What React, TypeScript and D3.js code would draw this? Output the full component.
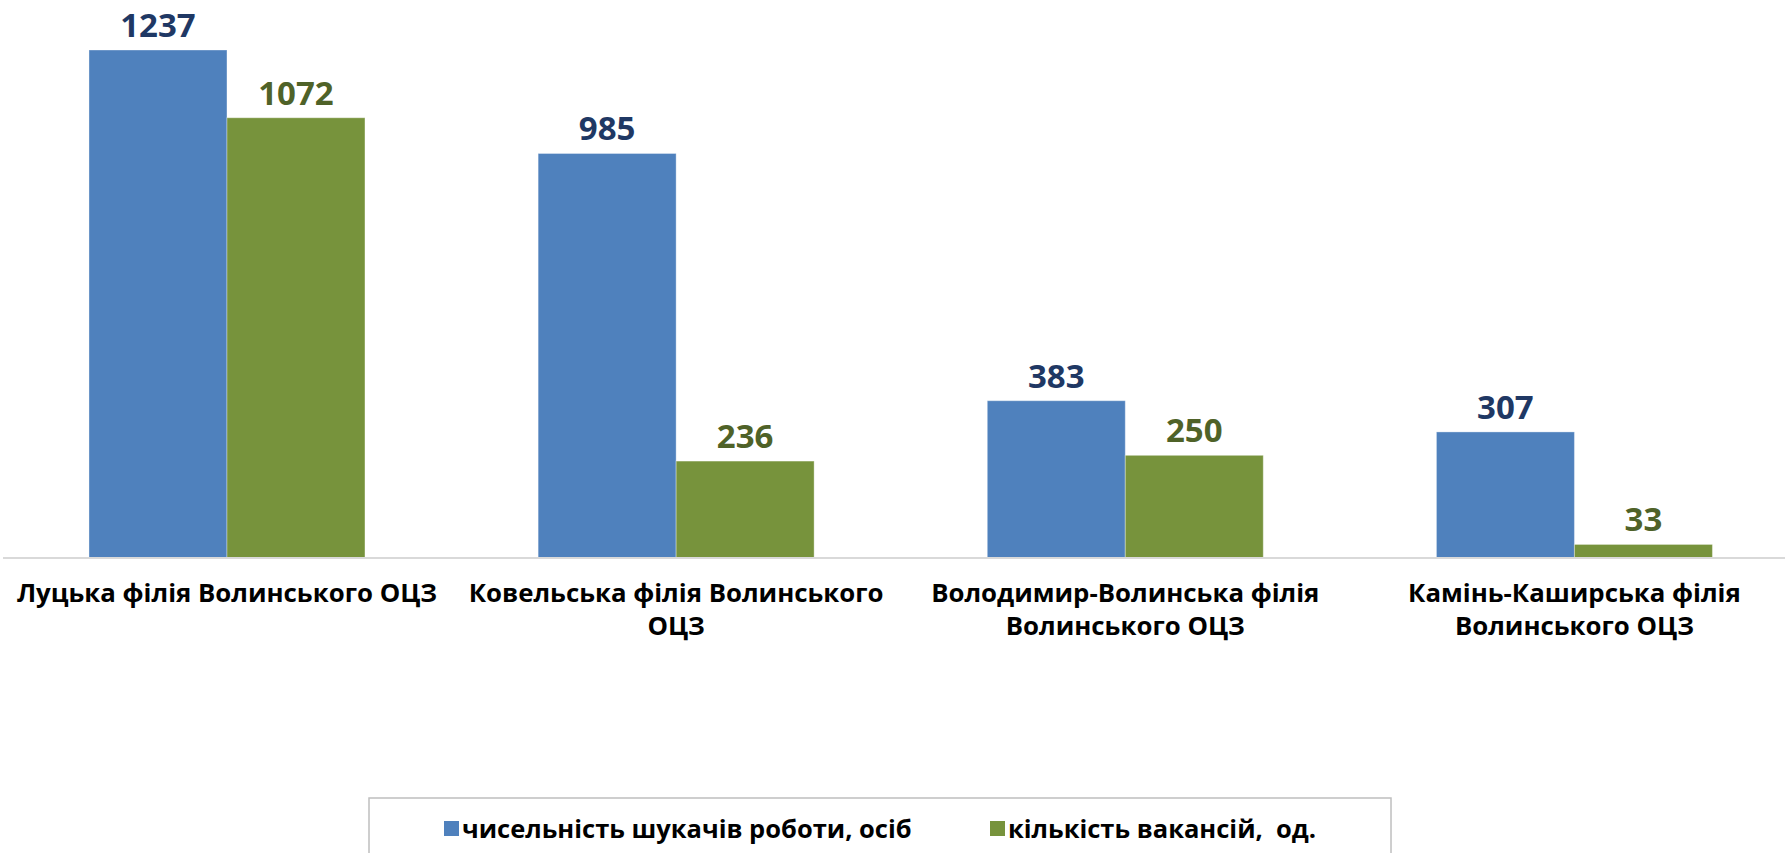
import React, { useEffect, useRef } from 'react';
import * as d3 from 'd3';

// categories (already split into lines the way the reference wraps them)
const categories = [
  'Луцька філія Волинського ОЦЗ',
  'Ковельська філія Волинського ОЦЗ',
  'Володимир-Волинська філія Волинського ОЦЗ',
  'Камінь-Каширська філія Волинського ОЦЗ',
];
const categoryLines = [
  ['Луцька філія Волинського ОЦЗ'],
  ['Ковельська філія Волинського', 'ОЦЗ'],
  ['Володимир-Волинська філія', 'Волинського ОЦЗ'],
  ['Камінь-Каширська філія', 'Волинського ОЦЗ'],
];

const seriesNames = ['чисельність шукачів роботи, осіб', 'кількість вакансій,  од.'];
const jobSeekers = [1237, 985, 383, 307];
const vacancies = [1072, 236, 250, 33];

const COLORS = {
  bars: ['#4F81BD', '#77933C'],
  labels: ['#1F3864', '#4F6228'],
  axis: '#D9D9D9',
  legendBorder: '#BFBFBF',
};

const W = 1785;
const H = 853;

const App: React.FC = () => {
  const svgRef = useRef<SVGSVGElement>(null);

  useEffect(() => {
    if (!svgRef.current) return;
    const svg = d3.select(svgRef.current);
    svg.selectAll('*').remove();

    const values = [jobSeekers, vacancies];
    const baseY = 558;

    const x0 = d3.scaleBand<string>()
      .domain(categories)
      .range([2.4, 1799])
      .padding(0);

    const x1 = d3.scaleBand<number>()
      .domain([0, 1])
      .range([0, x0.bandwidth()])
      .paddingInner(0)
      .paddingOuter(0.6275);

    const y = d3.scaleLinear()
      .domain([0, d3.max(jobSeekers) as number])
      .range([baseY, 50]);

    // bars + value labels
    categories.forEach((cat, i) => {
      const g = svg.append('g').attr('transform', `translate(${x0(cat)},0)`);
      [0, 1].forEach(s => {
        const v = values[s][i];
        const bx = x1(s) as number;
        g.append('rect')
          .attr('x', bx)
          .attr('y', y(v))
          .attr('width', x1.bandwidth())
          .attr('height', baseY - y(v))
          .attr('fill', COLORS.bars[s])
          .attr('stroke', 'rgba(255,255,255,0.35)')
          .attr('stroke-width', 1);

        g.append('text')
          .attr('x', bx + x1.bandwidth() / 2)
          .attr('y', y(v) - 13)
          .attr('text-anchor', 'middle')
          .attr('font-family', '"Open Sans", sans-serif')
          .attr('font-weight', 'bold')
          .attr('font-size', '33px')
          .attr('fill', COLORS.labels[s])
          .text(String(v));
      });
    });

    // baseline
    svg.append('line')
      .attr('x1', 3).attr('x2', W)
      .attr('y1', baseY).attr('y2', baseY)
      .attr('stroke', COLORS.axis)
      .attr('stroke-width', 2);

    // category labels
    categories.forEach((cat, i) => {
      const cx = (x0(cat) as number) + x0.bandwidth() / 2;
      const t = svg.append('text')
        .attr('text-anchor', 'middle')
        .attr('font-family', '"Open Sans", sans-serif')
        .attr('font-weight', 'bold')
        .attr('font-size', '25.8px')
        .attr('fill', '#000');
      categoryLines[i].forEach((line, k) => {
        t.append('tspan')
          .attr('x', cx)
          .attr('y', 602 + k * 33)
          .text(line);
      });
    });

    // legend
    const legend = svg.append('g');
    legend.append('rect')
      .attr('x', 369).attr('y', 798)
      .attr('width', 1022).attr('height', 70)
      .attr('fill', '#fff')
      .attr('stroke', COLORS.legendBorder)
      .attr('stroke-width', 1.5);

    const legendX = [444, 990];
    seriesNames.forEach((name, s) => {
      legend.append('rect')
        .attr('x', legendX[s]).attr('y', 821)
        .attr('width', 15).attr('height', 15)
        .attr('fill', COLORS.bars[s]);
      legend.append('text')
        .attr('x', legendX[s] + 18)
        .attr('y', 838)
        .attr('font-family', '"Open Sans", sans-serif')
        .attr('font-weight', 'bold')
        .attr('font-size', '25.5px')
        .attr('fill', '#000')
        .style('white-space', 'pre')
        .text(name);
    });
  }, []);

  return (
    <svg
      ref={svgRef}
      width={W}
      height={H}
      style={{ position: 'absolute', left: 0, top: 0, background: '#fff', display: 'block' }}
    />
  );
};

export default App;
